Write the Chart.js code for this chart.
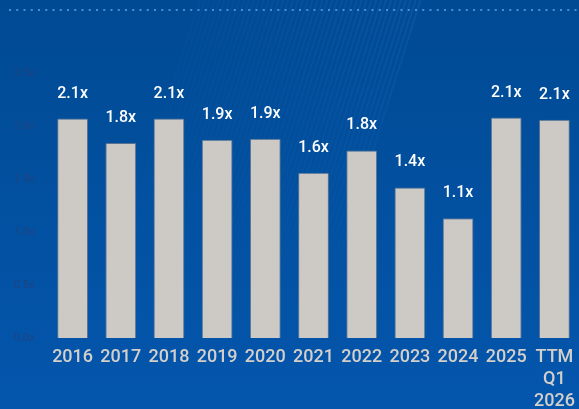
<!DOCTYPE html>
<html>
<head>
<meta charset="utf-8">
<script src="https://cdn.jsdelivr.net/npm/chart.js@4.4.1/dist/chart.umd.min.js"></script>
<style>
    html, body {
        margin: 0;
        padding: 0;
        overflow: hidden;
        background: #004c98;
    }
    #wrap {
        position: relative;
        width: 584px;
        height: 409px;
    }
</style>
</head>
<body>
<div id="wrap"><canvas id="chart"></canvas></div>
<script>
// Multipli per anno (x)
const years = ['2016', '2017', '2018', '2019', '2020', '2021', '2022', '2023', '2024', '2025', ['TTM', 'Q1', '2026']];
const multiples = [2.07, 1.84, 2.07, 1.87, 1.88, 1.56, 1.77, 1.42, 1.13, 2.08, 2.06];
const yTicks = [0, 0.5, 1.0, 1.5, 2.0, 2.5];

// Sfondo blu con riflessi diagonali e linea puntinata in alto
const backdrop = {
    id: 'backdrop',
    beforeDraw: (chart) => {
        const { ctx, width, height } = chart;
        ctx.save();
        const bg = ctx.createLinearGradient(0, 0, 0, height);
        bg.addColorStop(0, '#004a93');
        bg.addColorStop(1, '#0456ad');
        ctx.fillStyle = bg;
        ctx.fillRect(0, 0, width, height);

        // riflessi sottili, più chiari verso destra
        for (let i = 0; i < 46; i++) {
            const x0 = 200 + i * 4.9;
            const a = 0.05 + 0.13 * (i / 45);
            const g = ctx.createLinearGradient(0, 0, 0, 300);
            g.addColorStop(0, `rgba(45, 125, 225, ${a})`);
            g.addColorStop(0.6, `rgba(45, 125, 225, ${a * 0.4})`);
            g.addColorStop(1, 'rgba(45, 125, 225, 0)');
            ctx.strokeStyle = g;
            ctx.lineWidth = 2;
            ctx.beginPath();
            ctx.moveTo(x0, 0);
            ctx.lineTo(x0 - 95, 300);
            ctx.stroke();
        }

        // linea puntinata
        ctx.fillStyle = 'rgba(90, 160, 235, 0.8)';
        for (let x = 10; x < width; x += 7.25) {
            ctx.fillRect(x - 1, 9, 2, 2);
        }
        ctx.restore();
    }
};

// Etichette sopra le barre
const barLabels = {
    id: 'barLabels',
    afterDatasetsDraw: (chart) => {
        const { ctx } = chart;
        const meta = chart.getDatasetMeta(0);
        ctx.save();
        ctx.fillStyle = '#ffffff';
        ctx.font = '500 16px Roboto';
        ctx.textAlign = 'center';
        ctx.textBaseline = 'middle';
        meta.data.forEach((bar, i) => {
            ctx.fillText(multiples[i].toFixed(1) + 'x', bar.x, bar.y - 25);
        });
        ctx.restore();
    }
};

new Chart(document.getElementById('chart'), {
    type: 'bar',
    data: {
        labels: years,
        datasets: [{
            data: multiples,
            backgroundColor: '#cdc9c4',
            borderColor: 'rgba(125, 130, 140, 0.7)',
            borderWidth: { top: 1, left: 1, right: 1, bottom: 0 },
            borderRadius: 1,
            borderSkipped: 'bottom',
            categoryPercentage: 1,
            barPercentage: 0.64
        }]
    },
    options: {
        responsive: true,
        maintainAspectRatio: false,
        animation: false,
        layout: {
            padding: { top: 73, right: 2.5, left: 0, bottom: 0 }
        },
        plugins: {
            legend: { display: false },
            tooltip: { enabled: false }
        },
        scales: {
            x: {
                grid: { display: false, drawTicks: false },
                border: { display: false },
                ticks: {
                    color: '#d3cfca',
                    font: { family: 'Roboto', size: 18, weight: '500', lineHeight: 1.22 },
                    padding: 9,
                    maxRotation: 0,
                    autoSkip: false
                },
                afterFit: (scale) => { scale.height = 71; }
            },
            y: {
                min: 0,
                max: 2.5,
                afterBuildTicks: (scale) => {
                    scale.ticks = yTicks.map(v => ({ value: v }));
                },
                grid: { display: false, drawTicks: false },
                border: { display: false },
                ticks: {
                    color: '#1f4482',
                    font: { family: 'Roboto', size: 11 },
                    padding: 14,
                    callback: (v) => Number(v).toFixed(1) + 'x'
                },
                afterFit: (scale) => { scale.width = 48.5; }
            }
        }
    },
    plugins: [backdrop, barLabels]
});
</script>
</body>
</html>
